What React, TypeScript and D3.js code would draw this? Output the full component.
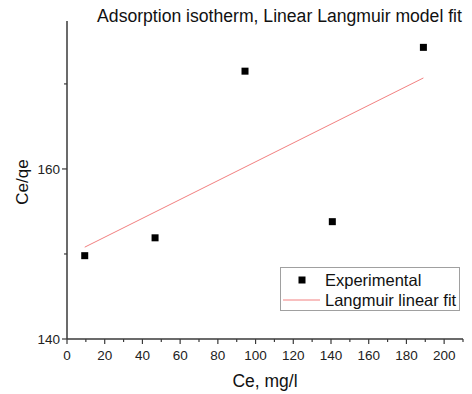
import React from "react";
import * as d3 from "d3";

const ceValues = [9.4, 46.7, 94.4, 140.7, 189];
const ratioValues = [149.8, 151.9, 171.5, 153.8, 174.3];
const fitX = [9.4, 189];
const fitY = [150.8, 170.7];
const xMajorTicks = [0, 20, 40, 60, 80, 100, 120, 140, 160, 180, 200];
const xMinorTicks = [10, 30, 50, 70, 90, 110, 130, 150, 170, 190, 210];
const yMajorTicks = [140, 160];
const yMinorTicks = [150, 170];
const title = "Adsorption isotherm, Linear Langmuir model fit";
const xTitle = "Ce, mg/l";
const yTitle = "Ce/qe";
const legendLabels = ["Experimental", "Langmuir linear fit"];

export default function App() {
  const W = 472, H = 394;
  const left = 67, right = 463, top = 21, bottom = 339;
  const x = d3.scaleLinear().domain([0, 210]).range([left, right]);
  const y = d3.scaleLinear().domain([140, 177.4]).range([bottom, top]);
  const line = d3.line<number>().x((d, i) => x(fitX[i])).y((d) => y(d));
  const font = "'Liberation Sans', Arial, sans-serif";
  const axisColor = "#3a3a3a";
  const sq = 7;
  return (
    <svg width={W} height={H} style={{ position: "absolute", left: 0, top: 0, background: "#fff" }} fontFamily={font}>
      <text x={279.5} y={22} fontSize={17.6} textAnchor="middle" fill="#111">{title}</text>
      {/* axes */}
      <line x1={left} x2={left} y1={top} y2={bottom} stroke={axisColor} strokeWidth={1.5} />
      <line x1={left} x2={right} y1={bottom} y2={bottom} stroke={axisColor} strokeWidth={1.5} />
      {xMajorTicks.map((t) => (
        <g key={"xM" + t}>
          <line x1={x(t)} x2={x(t)} y1={bottom} y2={bottom + 5} stroke={axisColor} strokeWidth={1.2} />
          <text x={x(t)} y={bottom + 21} fontSize={13.5} textAnchor="middle" fill="#222">{t}</text>
        </g>
      ))}
      {xMinorTicks.map((t) => (
        <line key={"xm" + t} x1={x(t)} x2={x(t)} y1={bottom} y2={bottom + 3} stroke={axisColor} strokeWidth={1.2} />
      ))}
      {yMajorTicks.map((t) => (
        <g key={"yM" + t}>
          <line x1={left - 5} x2={left} y1={y(t)} y2={y(t)} stroke={axisColor} strokeWidth={1.2} />
          <text x={left - 7} y={y(t) + 4.8} fontSize={13.5} textAnchor="end" fill="#222">{t}</text>
        </g>
      ))}
      {yMinorTicks.map((t) => (
        <line key={"ym" + t} x1={left - 3} x2={left} y1={y(t)} y2={y(t)} stroke={axisColor} strokeWidth={1.2} />
      ))}
      <text x={(left + right) / 2} y={387} fontSize={17.5} textAnchor="middle" fill="#111">{xTitle}</text>
      <text transform={`translate(28,${(top + bottom) / 2 + 2}) rotate(-90)`} fontSize={17} textAnchor="middle" fill="#111">{yTitle}</text>
      {/* fit line */}
      <path d={line(fitY) || ""} fill="none" stroke="#f28080" strokeWidth={1} />
      {/* points */}
      {ceValues.map((c, i) => (
        <rect key={i} x={x(c) - sq / 2} y={y(ratioValues[i]) - sq / 2} width={sq} height={sq} fill="#000" />
      ))}
      {/* legend */}
      <rect x={280.5} y={267.5} width={179} height={43} fill="#fff" stroke="#a0a0a0" strokeWidth={1} />
      <rect x={302 - sq / 2} y={280 - sq / 2} width={sq} height={sq} fill="#000" />
      <line x1={283} x2={320} y1={300} y2={300} stroke="#f28080" strokeWidth={1} />
      <text x={325} y={285.5} fontSize={16.5} fill="#111">{legendLabels[0]}</text>
      <text x={325} y={305.5} fontSize={16.5} fill="#111">{legendLabels[1]}</text>
    </svg>
  );
}
